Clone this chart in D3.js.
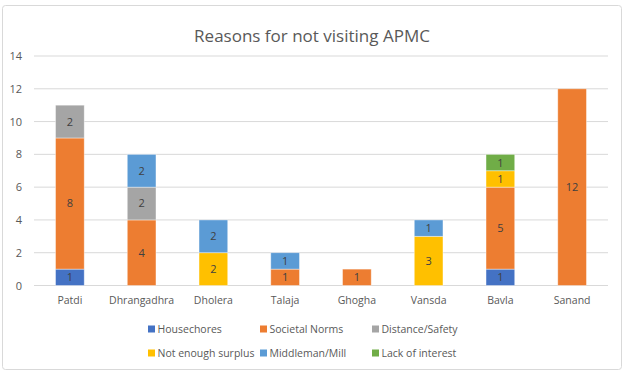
<!DOCTYPE html>
<html lang="en">
  <head>
    <meta charset="utf-8" />
    <title>Reasons for not visiting APMC</title>
    <script src="https://d3js.org/d3.v7.min.js"></script>
    <style>
      body {
        margin: 0;
        background-color: #fff;
        font-family: "Open Sans", sans-serif;
      }
    </style>
  </head>
  <body>
    <div id="chart"></div>
    <script>
      const places = ["Patdi", "Dhrangadhra", "Dholera", "Talaja", "Ghogha", "Vansda", "Bavla", "Sanand"];
      const reasons = ["Housechores", "Societal Norms", "Distance/Safety", "Not enough surplus", "Middleman/Mill", "Lack of interest"];
      const colors = ["#4472C4", "#ED7D31", "#A5A5A5", "#FFC000", "#5B9BD5", "#70AD47"];

      const housechores = [1, 0, 0, 0, 0, 0, 1, 0];
      const societalNorms = [8, 4, 0, 1, 1, 0, 5, 12];
      const distanceSafety = [2, 2, 0, 0, 0, 0, 0, 0];
      const notEnoughSurplus = [0, 0, 2, 0, 0, 3, 1, 0];
      const middleman = [0, 2, 2, 1, 0, 1, 0, 0];
      const lackOfInterest = [0, 0, 0, 0, 0, 0, 1, 0];
      const yTicks = [0, 2, 4, 6, 8, 10, 12, 14];

      const series = [housechores, societalNorms, distanceSafety, notEnoughSurplus, middleman, lackOfInterest];
      const rows = places.map((p, i) => {
        const r = { place: p };
        reasons.forEach((k, j) => (r[k] = series[j][i]));
        return r;
      });

      const W = 624, H = 375;
      const plot = { left: 34, right: 608, top: 56, bottom: 285.5 };

      const svg = d3.select("#chart").append("svg").attr("width", W).attr("height", H);

      svg.append("rect")
        .attr("x", 2.5).attr("y", 5.5).attr("width", 619).attr("height", 364)
        .attr("rx", 3)
        .attr("fill", "#fff").attr("stroke", "#d9d9d9");

      svg.append("text")
        .attr("x", W / 2).attr("y", 42)
        .attr("text-anchor", "middle")
        .style("font-size", "17px")
        .style("fill", "#595959")
        .text("Reasons for not visiting APMC");

      const x = d3.scaleBand().domain(places).range([plot.left, plot.right]).paddingInner(0.6).paddingOuter(0.3);
      const y = d3.scaleLinear().domain([0, 14]).range([plot.bottom, plot.top]);

      // gridlines
      svg.append("g")
        .selectAll("line")
        .data(yTicks)
        .join("line")
        .attr("x1", plot.left).attr("x2", plot.right)
        .attr("y1", (d) => y(d)).attr("y2", (d) => y(d))
        .attr("stroke", "#d9d9d9").attr("stroke-width", 1);

      const yAxis = svg.append("g")
        .attr("transform", `translate(${plot.left},0)`)
        .call(d3.axisLeft(y).tickValues(yTicks).tickSize(0).tickPadding(12));
      yAxis.select(".domain").remove();
      yAxis.selectAll("text").style("font-size", "11px").style("fill", "#595959").style("font-family", "Open Sans");

      const xAxis = svg.append("g")
        .attr("transform", `translate(0,${plot.bottom})`)
        .call(d3.axisBottom(x).tickSize(0).tickPadding(11));
      xAxis.select(".domain").remove();
      xAxis.selectAll("text").style("font-size", "10.5px").style("fill", "#595959").style("font-family", "Open Sans");

      const stack = d3.stack().keys(reasons)(rows);

      const layers = svg.append("g")
        .selectAll("g")
        .data(stack)
        .join("g")
        .attr("fill", (d, i) => colors[i]);

      layers.selectAll("rect")
        .data((d) => d.filter((s) => s[1] - s[0] > 0))
        .join("rect")
        .attr("x", (d) => x(d.data.place))
        .attr("y", (d) => y(d[1]))
        .attr("width", x.bandwidth())
        .attr("height", (d) => y(d[0]) - y(d[1]))
        .attr("stroke", "#fff")
        .attr("stroke-opacity", 0.5)
        .attr("stroke-width", 0.8);

      layers.selectAll("text")
        .data((d) => d.filter((s) => s[1] - s[0] > 0))
        .join("text")
        .attr("x", (d) => x(d.data.place) + x.bandwidth() / 2)
        .attr("y", (d) => (y(d[0]) + y(d[1])) / 2)
        .attr("dy", "0.36em")
        .attr("text-anchor", "middle")
        .style("font-size", "11px")
        .style("fill", "#404040")
        .text((d) => d[1] - d[0]);

      // legend
      const legendPos = [
        [148, 329], [260, 329], [372, 329],
        [148, 353], [260, 353], [372, 353],
      ];
      const legend = svg.append("g")
        .selectAll("g")
        .data(reasons)
        .join("g")
        .attr("transform", (d, i) => `translate(${legendPos[i][0]},${legendPos[i][1]})`);
      legend.append("rect")
        .attr("x", 0).attr("y", -3.5).attr("width", 7).attr("height", 7)
        .attr("fill", (d, i) => colors[i]);
      legend.append("text")
        .attr("x", 9.5).attr("y", 0).attr("dy", "0.35em")
        .style("font-size", "10.5px")
        .style("fill", "#595959")
        .text((d) => d);
    </script>
  </body>
</html>
